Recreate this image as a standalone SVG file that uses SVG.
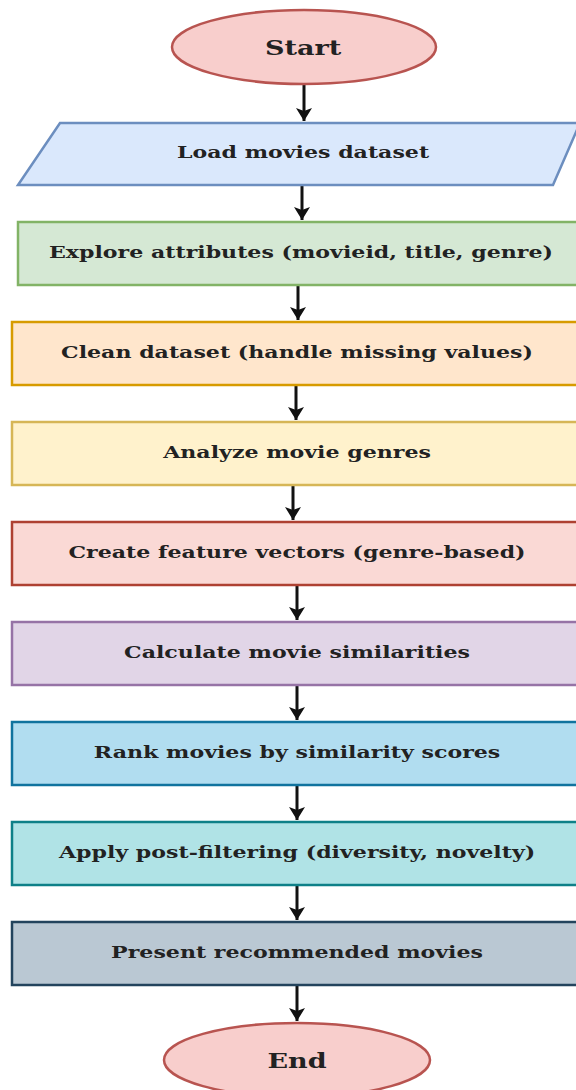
<svg xmlns="http://www.w3.org/2000/svg" width="576" height="1090" viewBox="0 0 576 1090">
<defs>
<style>
.t{font-family:"DejaVu Serif","Liberation Serif",serif;font-weight:bold;font-size:17px;fill:#222;text-anchor:middle}
.big{font-size:20.8px}
.c{stroke:#111;stroke-width:3;fill:none}
rect,ellipse,polygon{stroke-width:2.5}
</style>
<marker id="a" viewBox="0 0 14 16" refX="13" refY="8" markerWidth="14" markerHeight="16" markerUnits="userSpaceOnUse" orient="auto">
<path d="M0,0 L13,8 L0,16 L3,8 Z" fill="#111"/>
</marker>
</defs>
<g id="connectors">
<line class="c" x1="304" y1="85" x2="304" y2="121" marker-end="url(#a)"/>
<line class="c" x1="302" y1="186" x2="302" y2="220" marker-end="url(#a)"/>
<line class="c" x1="298" y1="286" x2="298" y2="320" marker-end="url(#a)"/>
<line class="c" x1="296" y1="386" x2="296" y2="420" marker-end="url(#a)"/>
<line class="c" x1="293" y1="486" x2="293" y2="520" marker-end="url(#a)"/>
<line class="c" x1="297" y1="586" x2="297" y2="620" marker-end="url(#a)"/>
<line class="c" x1="297" y1="686" x2="297" y2="720" marker-end="url(#a)"/>
<line class="c" x1="297" y1="786" x2="297" y2="820" marker-end="url(#a)"/>
<line class="c" x1="297" y1="886" x2="297" y2="920" marker-end="url(#a)"/>
<line class="c" x1="297" y1="986" x2="297" y2="1021" marker-end="url(#a)"/>
</g>
<g id="start">
<ellipse cx="304" cy="47" rx="132" ry="37" fill="#f8cecc" stroke="#b85450"/>
<text class="t big" transform="scale(1.3,1)" x="233.1" y="55">Start</text>
</g>
<g id="load">
<polygon points="60,123 580,123 553,185 18,185" fill="#dae8fc" stroke="#6c8ebf"/>
<text class="t" transform="scale(1.3,1)" x="233.1" y="158">Load movies dataset</text>
</g>
<g id="explore">
<rect x="18" y="222" width="570" height="63" fill="#d5e8d4" stroke="#82b366"/>
<text class="t" transform="scale(1.3,1)" x="231.5" y="258">Explore attributes (movieid, title, genre)</text>
</g>
<g id="clean">
<rect x="12" y="322" width="576" height="63" fill="#ffe6cc" stroke="#d79b00"/>
<text class="t" transform="scale(1.3,1)" x="228.5" y="358">Clean dataset (handle missing values)</text>
</g>
<g id="analyze">
<rect x="12" y="422" width="576" height="63" fill="#fff2cc" stroke="#d6b656"/>
<text class="t" transform="scale(1.3,1)" x="228.5" y="458">Analyze movie genres</text>
</g>
<g id="create">
<rect x="12" y="522" width="576" height="63" fill="#fad9d5" stroke="#ae4132"/>
<text class="t" transform="scale(1.3,1)" x="228.5" y="558">Create feature vectors (genre-based)</text>
</g>
<g id="calculate">
<rect x="12" y="622" width="576" height="63" fill="#e1d5e7" stroke="#9673a6"/>
<text class="t" transform="scale(1.3,1)" x="228.5" y="658">Calculate movie similarities</text>
</g>
<g id="rank">
<rect x="12" y="722" width="576" height="63" fill="#b1ddf0" stroke="#10739e"/>
<text class="t" transform="scale(1.3,1)" x="228.5" y="758">Rank movies by similarity scores</text>
</g>
<g id="apply">
<rect x="12" y="822" width="576" height="63" fill="#b0e3e6" stroke="#0e8088"/>
<text class="t" transform="scale(1.3,1)" x="228.5" y="858">Apply post-filtering (diversity, novelty)</text>
</g>
<g id="present">
<rect x="12" y="922" width="576" height="63" fill="#bac8d3" stroke="#23445d"/>
<text class="t" transform="scale(1.3,1)" x="228.5" y="958">Present recommended movies</text>
</g>
<g id="end">
<ellipse cx="297" cy="1060" rx="133" ry="37" fill="#f8cecc" stroke="#b85450"/>
<text class="t big" transform="scale(1.3,1)" x="228.5" y="1068">End</text>
</g>
</svg>
